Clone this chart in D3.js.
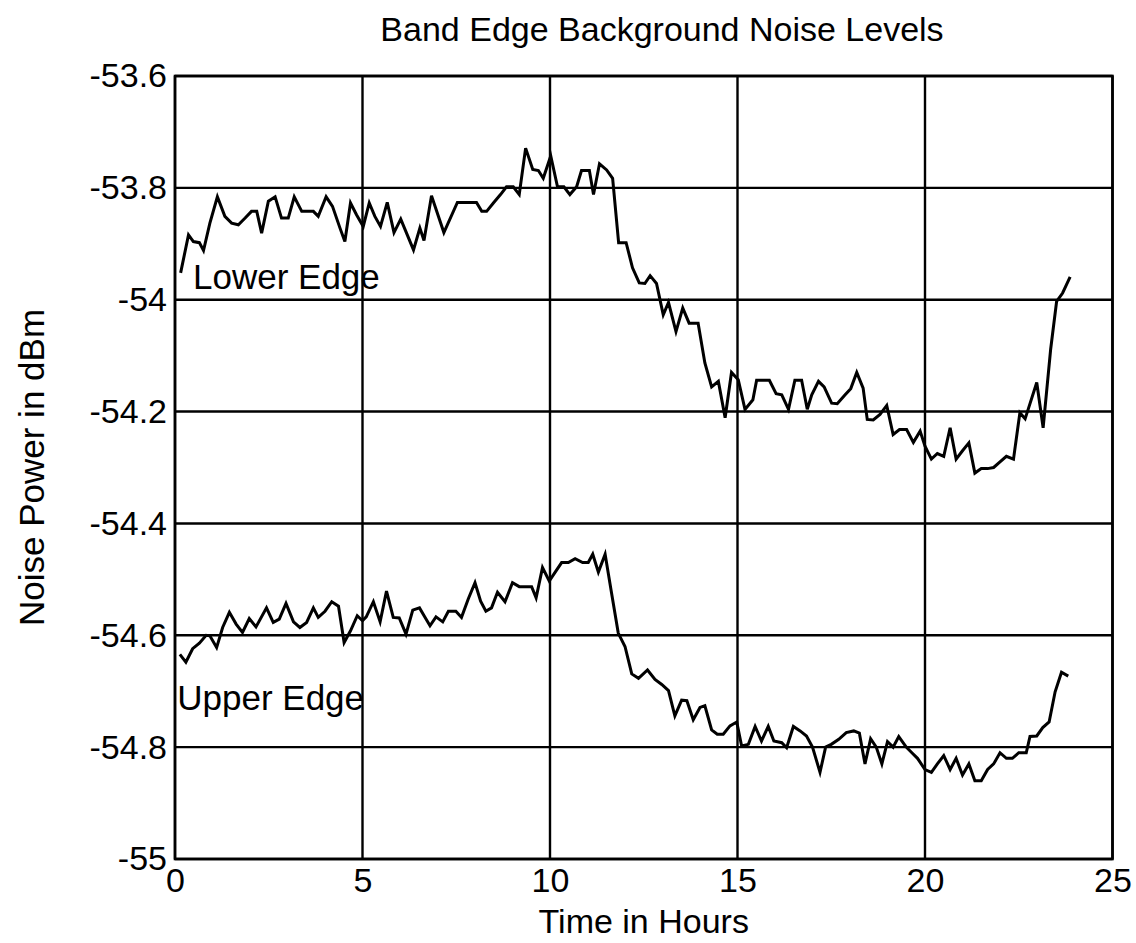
<!DOCTYPE html>
<html>
<head>
<meta charset="utf-8">
<script src="https://cdn.jsdelivr.net/npm/d3@7"></script>
<style>
html,body{margin:0;padding:0;background:#fff;}
svg{display:block;}
text{font-family:"Liberation Sans",Arial,sans-serif;fill:#000;}
</style>
</head>
<body>
<svg id="chart" width="1136" height="943"></svg>
<script>
// ---- data ----
const xTicks = [0, 5, 10, 15, 20, 25];
const yTicks = [-53.6, -53.8, -54, -54.2, -54.4, -54.6, -54.8, -55];
const title = "Band Edge Background Noise Levels";
const xTitle = "Time in Hours";
const yTitle = "Noise Power in dBm";
const seriesNames = ["Lower Edge", "Upper Edge"];

const lowerHours = [0.15,0.36,0.49,0.65,0.76,0.93,1.13,1.33,1.51,1.69,1.87,2.04,2.18,2.31,2.49,2.67,2.84,3.02,3.18,3.38,3.69,3.82,4.03,4.20,4.40,4.53,4.68,4.84,5.02,5.18,5.33,5.48,5.66,5.84,6.02,6.36,6.53,6.64,6.84,7.17,7.53,8.04,8.18,8.31,8.49,8.68,8.84,9.02,9.18,9.35,9.54,9.69,9.82,10.02,10.20,10.37,10.53,10.71,10.84,11.05,11.16,11.32,11.51,11.67,11.83,12.03,12.20,12.38,12.53,12.67,12.84,13.02,13.16,13.36,13.54,13.71,13.95,14.13,14.31,14.49,14.67,14.84,15.02,15.20,15.41,15.51,15.85,16.03,16.18,16.36,16.53,16.71,16.86,16.98,17.16,17.31,17.51,17.66,17.87,18.02,18.18,18.35,18.46,18.62,18.80,18.98,19.15,19.32,19.51,19.69,19.87,20.00,20.17,20.33,20.50,20.67,20.83,21.00,21.17,21.33,21.50,21.67,21.83,22.00,22.17,22.36,22.53,22.67,22.98,23.15,23.35,23.51,23.67,23.87];
const lowerValues = [-53.952,-53.884,-53.896,-53.898,-53.912,-53.863,-53.816,-53.851,-53.863,-53.866,-53.854,-53.842,-53.842,-53.881,-53.824,-53.816,-53.854,-53.854,-53.816,-53.842,-53.842,-53.851,-53.816,-53.833,-53.872,-53.896,-53.827,-53.848,-53.869,-53.827,-53.851,-53.869,-53.826,-53.880,-53.856,-53.911,-53.872,-53.894,-53.814,-53.880,-53.826,-53.826,-53.842,-53.842,-53.827,-53.812,-53.798,-53.798,-53.812,-53.729,-53.767,-53.769,-53.783,-53.743,-53.798,-53.798,-53.812,-53.798,-53.769,-53.769,-53.812,-53.757,-53.768,-53.783,-53.898,-53.898,-53.943,-53.970,-53.971,-53.957,-53.971,-54.027,-54.005,-54.057,-54.015,-54.042,-54.042,-54.113,-54.156,-54.146,-54.211,-54.130,-54.143,-54.196,-54.179,-54.144,-54.144,-54.168,-54.170,-54.196,-54.144,-54.144,-54.196,-54.170,-54.146,-54.156,-54.185,-54.186,-54.170,-54.159,-54.130,-54.158,-54.214,-54.215,-54.205,-54.189,-54.241,-54.232,-54.232,-54.255,-54.235,-54.262,-54.285,-54.275,-54.280,-54.229,-54.285,-54.270,-54.256,-54.310,-54.302,-54.302,-54.300,-54.290,-54.280,-54.285,-54.202,-54.213,-54.148,-54.229,-54.089,-54.003,-53.988,-53.959];

const upperHours = [0.13,0.29,0.47,0.65,0.83,0.93,1.11,1.27,1.45,1.63,1.80,1.98,2.16,2.44,2.62,2.78,2.96,3.16,3.33,3.51,3.69,3.82,4.00,4.18,4.36,4.51,4.68,4.86,5.00,5.10,5.29,5.47,5.64,5.82,5.98,6.16,6.34,6.52,6.67,6.80,6.96,7.14,7.29,7.49,7.64,7.82,8.00,8.15,8.29,8.44,8.60,8.80,9.00,9.18,9.51,9.63,9.80,9.98,10.13,10.31,10.49,10.67,10.87,11.02,11.14,11.29,11.47,11.64,11.82,12.00,12.18,12.36,12.60,12.80,12.98,13.16,13.33,13.51,13.65,13.82,14.00,14.13,14.31,14.46,14.62,14.80,14.98,15.11,15.29,15.47,15.64,15.82,15.97,16.18,16.31,16.49,16.67,16.84,17.00,17.20,17.35,17.50,17.70,17.90,18.10,18.25,18.40,18.55,18.70,18.85,19.00,19.15,19.30,19.50,19.65,19.80,20.00,20.17,20.33,20.50,20.67,20.83,21.00,21.17,21.33,21.50,21.67,21.83,22.00,22.17,22.33,22.50,22.70,22.80,22.98,23.14,23.31,23.47,23.64,23.82];
const upperValues = [-54.634,-54.648,-54.624,-54.614,-54.600,-54.601,-54.622,-54.586,-54.559,-54.580,-54.595,-54.570,-54.585,-54.551,-54.577,-54.571,-54.543,-54.576,-54.586,-54.577,-54.551,-54.568,-54.557,-54.540,-54.548,-54.613,-54.592,-54.565,-54.574,-54.567,-54.540,-54.576,-54.521,-54.568,-54.569,-54.598,-54.555,-54.551,-54.568,-54.583,-54.567,-54.576,-54.557,-54.557,-54.568,-54.535,-54.506,-54.539,-54.557,-54.551,-54.523,-54.540,-54.506,-54.513,-54.513,-54.533,-54.479,-54.503,-54.488,-54.470,-54.470,-54.463,-54.470,-54.470,-54.455,-54.487,-54.455,-54.524,-54.596,-54.620,-54.669,-54.677,-54.662,-54.679,-54.688,-54.699,-54.744,-54.716,-54.717,-54.751,-54.729,-54.726,-54.769,-54.777,-54.777,-54.762,-54.755,-54.798,-54.795,-54.763,-54.789,-54.763,-54.789,-54.792,-54.801,-54.763,-54.771,-54.780,-54.800,-54.845,-54.800,-54.795,-54.786,-54.774,-54.771,-54.775,-54.830,-54.785,-54.800,-54.830,-54.790,-54.800,-54.781,-54.800,-54.810,-54.820,-54.840,-54.845,-54.830,-54.815,-54.840,-54.820,-54.850,-54.830,-54.860,-54.860,-54.840,-54.830,-54.810,-54.820,-54.820,-54.810,-54.810,-54.781,-54.780,-54.765,-54.755,-54.701,-54.666,-54.673];

// ---- layout ----
const svg = d3.select("#chart");
const mLeft = 175, mRight = 1112.5, mTop = 76, mBottom = 859;
const x = d3.scaleLinear().domain([0, 25]).range([mLeft, mRight]);
const y = d3.scaleLinear().domain([-55, -53.6]).range([mBottom, mTop]);
const fmt = d => String(+d.toFixed(1));

// gridlines
const g = svg.append("g");
g.selectAll("line.h").data(yTicks).join("line").attr("class", "h")
  .attr("x1", mLeft).attr("x2", mRight)
  .attr("y1", d => y(d)).attr("y2", d => y(d))
  .attr("stroke", "#000").attr("stroke-width", 2.4);
g.selectAll("line.v").data(xTicks).join("line").attr("class", "v")
  .attr("y1", mTop).attr("y2", mBottom)
  .attr("x1", d => x(d)).attr("x2", d => x(d))
  .attr("stroke", "#000").attr("stroke-width", 2.4);
svg.append("rect").attr("x", mLeft).attr("y", mTop)
  .attr("width", mRight - mLeft).attr("height", mBottom - mTop)
  .attr("fill", "none").attr("stroke", "#000").attr("stroke-width", 2.6);

// axes (labels only)
const xAxis = svg.append("g").attr("transform", `translate(0,${mBottom})`)
  .call(d3.axisBottom(x).tickValues(xTicks).tickFormat(fmt).tickSize(0).tickPadding(9));
xAxis.select(".domain").remove();
xAxis.selectAll("text").style("font-size", "34px").attr("dy", "0.71em");

const yAxis = svg.append("g").attr("transform", `translate(${mLeft},0)`)
  .call(d3.axisLeft(y).tickValues(yTicks).tickFormat(fmt).tickSize(0).tickPadding(8));
yAxis.select(".domain").remove();
yAxis.selectAll("text").style("font-size", "34px");

// lines
const line = d3.line().x(d => x(d[0])).y(d => y(d[1]));
const lower = lowerHours.map((h, i) => [h, lowerValues[i]]);
const upper = upperHours.map((h, i) => [h, upperValues[i]]);
[lower, upper].forEach(s => {
  svg.append("path").datum(s).attr("d", line)
    .attr("fill", "none").attr("stroke", "#000")
    .attr("stroke-width", 3).attr("stroke-linejoin", "miter");
});

// series labels
svg.append("text").attr("x", x(0.48)).attr("y", y(-54.0) - 11)
  .style("font-size", "35px").text(seriesNames[0]);
svg.append("text").attr("x", x(0.06)).attr("y", y(-54.73) + 2)
  .style("font-size", "35px").text(seriesNames[1]);

// titles
svg.append("text").attr("x", 662).attr("y", 41).attr("text-anchor", "middle")
  .style("font-size", "34px").text(title);
svg.append("text").attr("x", (mLeft + mRight) / 2).attr("y", 933).attr("text-anchor", "middle")
  .style("font-size", "34px").text(xTitle);
svg.append("text").attr("transform", `translate(44,${(mTop + mBottom) / 2}) rotate(-90)`)
  .attr("text-anchor", "middle").style("font-size", "35px").text(yTitle);
</script>
</body>
</html>
